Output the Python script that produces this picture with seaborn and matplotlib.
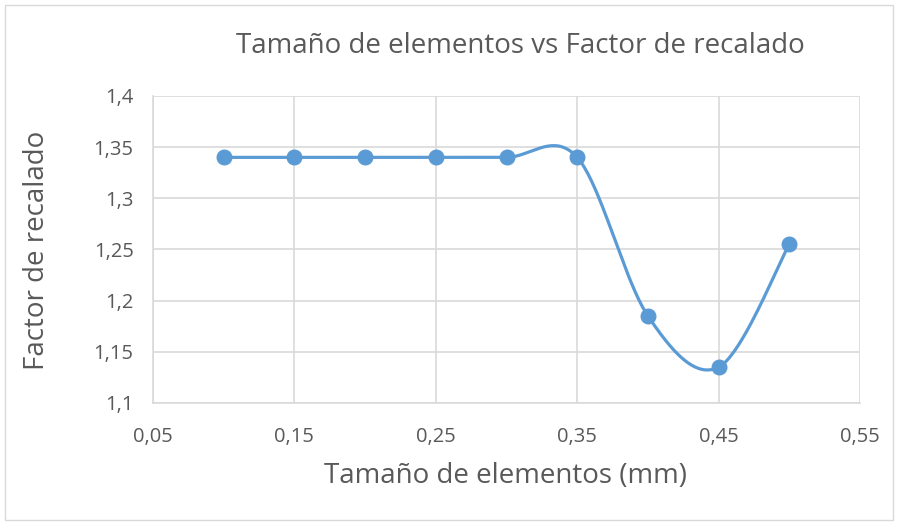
import numpy as np
import pandas as pd
import matplotlib
matplotlib.use("Agg")
import matplotlib.pyplot as plt
import seaborn as sns

# Data
tamano = [0.10, 0.15, 0.20, 0.25, 0.30, 0.35, 0.40, 0.45, 0.50]
factor = [1.34, 1.34, 1.34, 1.34, 1.34, 1.34, 1.185, 1.135, 1.255]
xticks = [0.05, 0.15, 0.25, 0.35, 0.45, 0.55]
yticks = [1.1, 1.15, 1.2, 1.25, 1.3, 1.35, 1.4]
title = "Tamaño de elementos vs Factor de recalado"
xlabel = "Tamaño de elementos (mm)"
ylabel = "Factor de recalado"

sns.set_theme(style="white")
plt.rcParams["font.family"] = ["Open Sans", "DejaVu Sans"]

BLUE = "#5B9BD5"
GRID = "#D9D9D9"
TXT = "#595959"

fig = plt.figure(figsize=(8.98, 5.25), dpi=100)
ax = fig.add_axes([0.1704, 0.2324, 0.7873, 0.5848])

# Smooth curve (Excel-style Catmull-Rom Bezier) computed from data
def smooth(xs, ys, n=40):
    P = np.column_stack([xs, ys]).astype(float)
    Pext = np.vstack([P[0], P, P[-1]])
    out = []
    t = np.linspace(0, 1, n)[:, None]
    for i in range(len(P) - 1):
        p0, p3 = P[i], P[i + 1]
        p1 = p0 + (Pext[i + 2] - Pext[i]) / 6.0
        p2 = p3 - (Pext[i + 3] - Pext[i + 1]) / 6.0
        seg = ((1 - t) ** 3) * p0 + 3 * ((1 - t) ** 2) * t * p1 + 3 * (1 - t) * t ** 2 * p2 + t ** 3 * p3
        out.append(seg if i == 0 else seg[1:])
    return np.vstack(out)

curve = smooth(tamano, factor)
cdf = pd.DataFrame({"x": curve[:, 0], "y": curve[:, 1]})
sns.lineplot(data=cdf, x="x", y="y", sort=False, ax=ax, color=BLUE, linewidth=2.3, zorder=3)
pdf = pd.DataFrame({"x": tamano, "y": factor})
ax.plot(pdf["x"], pdf["y"], linestyle="none", marker="o", markersize=10.5,
        color=BLUE, zorder=4)

ax.set_xlim(0.05, 0.55)
ax.set_ylim(1.1, 1.4)
ax.set_xticks(xticks)
ax.set_yticks(yticks)
fmt = lambda v: ("%g" % v).replace(".", ",")
ax.set_xticklabels([fmt(v) for v in xticks])
ax.set_yticklabels([fmt(v) for v in yticks])
ax.tick_params(axis="both", length=0, labelsize=14.5, colors=TXT)
ax.tick_params(axis="x", pad=17)
ax.tick_params(axis="y", pad=14)
ax.grid(True, color=GRID, linewidth=1.2)
for s in ["top", "right"]:
    ax.spines[s].set_visible(False)
for s in ["left", "bottom"]:
    ax.spines[s].set_color(GRID)
    ax.spines[s].set_linewidth(1.2)
ax.set_xlabel("")
ax.set_ylabel("")

fig.text(520 / 898, 1 - 46 / 525, title, ha="center", va="center", fontsize=20, color=TXT)
fig.text(506 / 898, 1 - 476 / 525, xlabel, ha="center", va="center", fontsize=20, color=TXT)
fig.text(37 / 898, 1 - 250 / 525, ylabel, ha="center", va="center", rotation=90, fontsize=20, color=TXT)

# outer chart border
fig.patches.append(plt.Rectangle((5 / 898, 5 / 525), 888 / 898, 515 / 525, transform=fig.transFigure,
                                 fill=False, edgecolor=GRID, linewidth=1))

fig.savefig("out.png", dpi=100, facecolor="white")
